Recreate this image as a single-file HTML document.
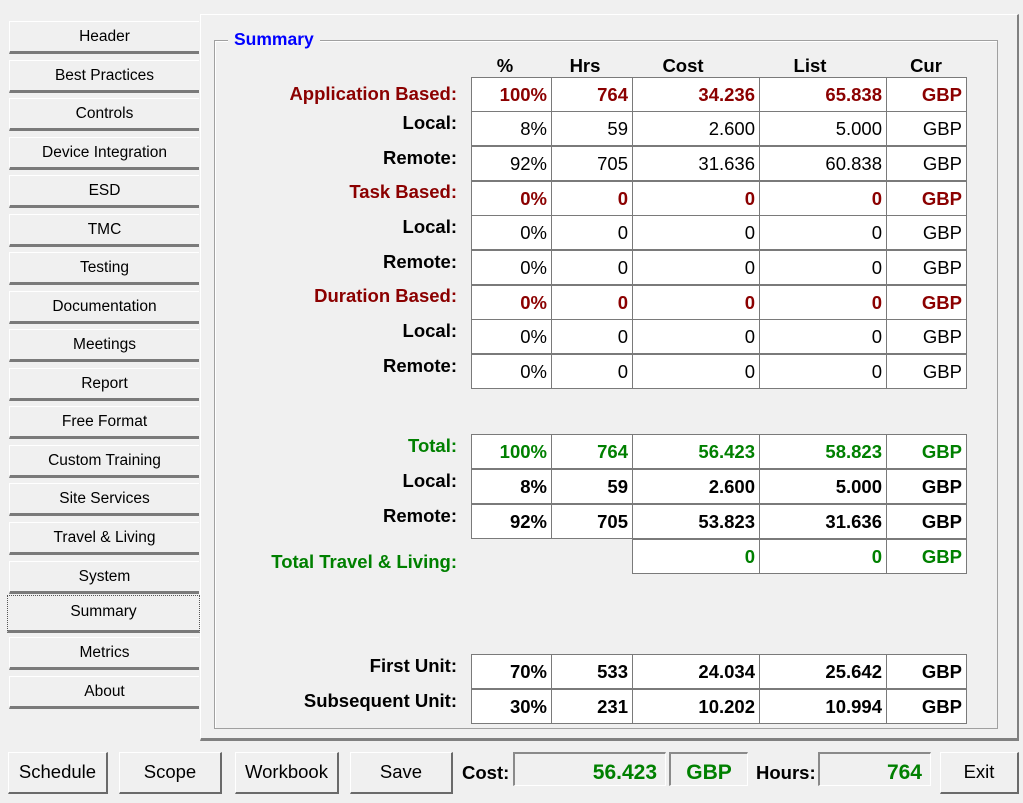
<!DOCTYPE html>
<html><head><meta charset="utf-8"><style>
*{box-sizing:border-box;margin:0;padding:0}
body{width:1023px;height:803px;background:#f0f0f0;position:relative;overflow:hidden;font-family:"Liberation Sans",Arial,sans-serif}
.a{position:absolute}
.nb{position:absolute;left:9px;width:190px;height:33px;background:#f0f0f0;border-top:1px solid #fff;border-left:1px solid #fff;border-bottom:3px solid #7a7a7a;font-size:15.5px;text-align:center;line-height:29px;color:#000}
.panel{left:200px;top:14px;width:819px;height:727px;border-top:1px solid #fff;border-left:1px solid #fff;border-right:2px solid #808080;border-bottom:3px solid #808080}
.gb{left:214px;top:40px;width:784px;height:689px;border:1px solid #a0a0a0;box-shadow:1px 1px 0 #fff inset}
.lg{left:228px;top:29px;padding:0 6px;background:#f0f0f0;color:#0000ff;font-weight:bold;font-size:17.5px}
.h{position:absolute;top:55px;font-weight:bold;font-size:18.5px;transform:translateX(-50%)}
.row{position:absolute;left:471px;height:35px;display:flex}
.c{height:35px;border:1px solid #7a7a7a;background:#fff;margin-right:-1px;text-align:right;padding-right:4px;font-size:18.5px;line-height:33px}
.c1{width:81px}.c2{width:82px}.c3{width:128px}.c4{width:128px}.c5{width:81px}
.red{color:#8b0000;font-weight:bold}.grn{color:#008000;font-weight:bold}.bl{color:#000}.bb{font-weight:bold}
.lb{position:absolute;right:566px;font-weight:bold;font-size:18.5px;line-height:20px;white-space:nowrap}
.btn{position:absolute;top:752px;height:42px;background:#f0f0f0;border-top:1px solid #fff;border-left:1px solid #fff;border-right:2px solid #6a6a6a;border-bottom:2px solid #6a6a6a;text-align:center;font-size:18.5px;line-height:38px}
.box{position:absolute;top:752px;height:34px;border-top:2px solid #8a8a8a;border-left:2px solid #8a8a8a;border-bottom:1px solid #fff;border-right:1px solid #fff;background:#f0f0f0;color:#008000;font-weight:bold;font-size:21px;line-height:38px;text-align:right;padding-right:8px}
</style></head><body>
<div class="a panel"></div>
<div class="nb" style="top:21px">Header</div>
<div class="nb" style="top:60px">Best Practices</div>
<div class="nb" style="top:98px">Controls</div>
<div class="nb" style="top:137px">Device Integration</div>
<div class="nb" style="top:175px">ESD</div>
<div class="nb" style="top:214px">TMC</div>
<div class="nb" style="top:252px">Testing</div>
<div class="nb" style="top:291px">Documentation</div>
<div class="nb" style="top:329px">Meetings</div>
<div class="nb" style="top:368px">Report</div>
<div class="nb" style="top:406px">Free Format</div>
<div class="nb" style="top:445px">Custom Training</div>
<div class="nb" style="top:483px">Site Services</div>
<div class="nb" style="top:522px">Travel &amp; Living</div>
<div class="nb" style="top:561px">System</div>
<div class="a" style="left:7px;top:595px;width:193px;height:38px;border:1px dotted #555;border-bottom:3px solid #7a7a7a;font-size:15.5px;text-align:center;line-height:31px">Summary</div>
<div class="nb" style="top:637px">Metrics</div>
<div class="nb" style="top:676px">About</div>

<div class="a gb"></div>
<div class="a lg">Summary</div>
<div class="h" style="left:505px">%</div>
<div class="h" style="left:585px">Hrs</div>
<div class="h" style="left:683px">Cost</div>
<div class="h" style="left:810px">List</div>
<div class="h" style="left:926px">Cur</div>

<div class="lb red" style="top:84px">Application Based:</div>
<div class="lb" style="top:113px">Local:</div>
<div class="lb" style="top:148px">Remote:</div>
<div class="lb red" style="top:182px">Task Based:</div>
<div class="lb" style="top:217px">Local:</div>
<div class="lb" style="top:252px">Remote:</div>
<div class="lb red" style="top:286px">Duration Based:</div>
<div class="lb" style="top:321px">Local:</div>
<div class="lb" style="top:356px">Remote:</div>
<div class="lb grn" style="top:436px">Total:</div>
<div class="lb" style="top:471px">Local:</div>
<div class="lb" style="top:506px">Remote:</div>
<div class="lb grn" style="top:552px">Total Travel &amp; Living:</div>
<div class="lb" style="top:656px">First Unit:</div>
<div class="lb" style="top:691px">Subsequent Unit:</div>

<div class="row red" style="top:77px"><div class="c c1">100%</div><div class="c c2">764</div><div class="c c3">34.236</div><div class="c c4">65.838</div><div class="c c5">GBP</div></div>
<div class="row" style="top:111px"><div class="c c1">8%</div><div class="c c2">59</div><div class="c c3">2.600</div><div class="c c4">5.000</div><div class="c c5">GBP</div></div>
<div class="row" style="top:146px"><div class="c c1">92%</div><div class="c c2">705</div><div class="c c3">31.636</div><div class="c c4">60.838</div><div class="c c5">GBP</div></div>
<div class="row red" style="top:181px"><div class="c c1">0%</div><div class="c c2">0</div><div class="c c3">0</div><div class="c c4">0</div><div class="c c5">GBP</div></div>
<div class="row" style="top:215px"><div class="c c1">0%</div><div class="c c2">0</div><div class="c c3">0</div><div class="c c4">0</div><div class="c c5">GBP</div></div>
<div class="row" style="top:250px"><div class="c c1">0%</div><div class="c c2">0</div><div class="c c3">0</div><div class="c c4">0</div><div class="c c5">GBP</div></div>
<div class="row red" style="top:285px"><div class="c c1">0%</div><div class="c c2">0</div><div class="c c3">0</div><div class="c c4">0</div><div class="c c5">GBP</div></div>
<div class="row" style="top:319px"><div class="c c1">0%</div><div class="c c2">0</div><div class="c c3">0</div><div class="c c4">0</div><div class="c c5">GBP</div></div>
<div class="row" style="top:354px"><div class="c c1">0%</div><div class="c c2">0</div><div class="c c3">0</div><div class="c c4">0</div><div class="c c5">GBP</div></div>

<div class="row grn" style="top:434px"><div class="c c1">100%</div><div class="c c2">764</div><div class="c c3">56.423</div><div class="c c4">58.823</div><div class="c c5">GBP</div></div>
<div class="row bb" style="top:469px"><div class="c c1">8%</div><div class="c c2">59</div><div class="c c3">2.600</div><div class="c c4">5.000</div><div class="c c5">GBP</div></div>
<div class="row bb" style="top:504px"><div class="c c1">92%</div><div class="c c2">705</div><div class="c c3">53.823</div><div class="c c4">31.636</div><div class="c c5">GBP</div></div>
<div class="row grn" style="top:539px;left:632px"><div class="c c3">0</div><div class="c c4">0</div><div class="c c5">GBP</div></div>

<div class="row bb" style="top:654px"><div class="c c1">70%</div><div class="c c2">533</div><div class="c c3">24.034</div><div class="c c4">25.642</div><div class="c c5">GBP</div></div>
<div class="row bb" style="top:689px"><div class="c c1">30%</div><div class="c c2">231</div><div class="c c3">10.202</div><div class="c c4">10.994</div><div class="c c5">GBP</div></div>

<div class="btn" style="left:8px;width:100px">Schedule</div>
<div class="btn" style="left:119px;width:103px">Scope</div>
<div class="btn" style="left:235px;width:104px">Workbook</div>
<div class="btn" style="left:350px;width:103px">Save</div>
<div class="a" style="left:462px;top:762px;font-weight:bold;font-size:18.5px">Cost:</div>
<div class="box" style="left:513px;width:153px">56.423</div>
<div class="box" style="left:669px;width:79px;text-align:center;padding:0">GBP</div>
<div class="a" style="left:756px;top:762px;font-weight:bold;font-size:18.5px">Hours:</div>
<div class="box" style="left:818px;width:113px">764</div>
<div class="btn" style="left:940px;width:79px">Exit</div>
</body></html>
